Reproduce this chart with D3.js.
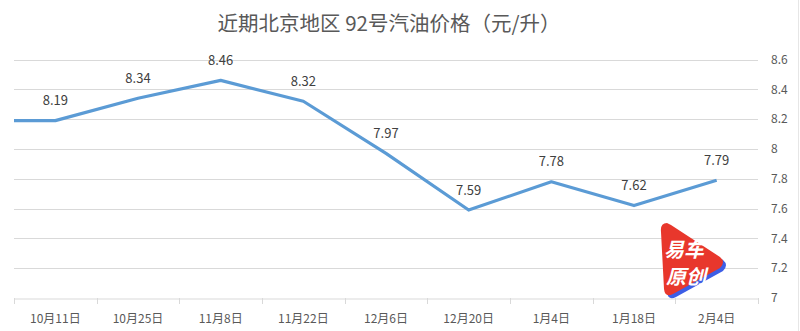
<!DOCTYPE html>
<html>
<head>
<meta charset="utf-8">
<script src="https://cdn.jsdelivr.net/npm/d3@7"></script>
<style>
  html, body { margin: 0; padding: 0; background: #fff; }
  svg { display: block; font-family: "Noto Sans CJK SC", "Noto Sans", sans-serif; }
</style>
</head>
<body>
<svg id="chart"></svg>
<script>
(function() {

// data
var dates = ['10月11日', '10月25日', '11月8日', '11月22日', '12月6日', '12月20日', '1月4日', '1月18日', '2月4日'];
var prices = [8.19, 8.34, 8.46, 8.32, 7.97, 7.59, 7.78, 7.62, 7.79];
var yTicks = [7, 7.2, 7.4, 7.6, 7.8, 8, 8.2, 8.4, 8.6];

var width = 800, height = 331;
var left = 14, right = 758, top = 59.5, bottom = 298;

var svg = d3.select('#chart')
    .attr('width', width)
    .attr('height', height);

var x = d3.scaleBand()
    .domain(dates)
    .range([left, right])
    .padding(0);

var y = d3.scaleLinear()
    .domain([7, 8.6])
    .range([bottom, top]);

// title
svg.append('text')
    .attr('x', 389)
    .attr('y', 31)
    .attr('text-anchor', 'middle')
    .attr('font-size', 20.5)
    .attr('fill', '#595959')
    .text('近期北京地区 92号汽油价格（元/升）');

// grid
svg.append('g')
    .selectAll('line')
    .data(yTicks.slice(1))
    .enter().append('line')
    .attr('x1', left)
    .attr('x2', right)
    .attr('y1', function(d) { return Math.round(y(d)) + 0.5; })
    .attr('y2', function(d) { return Math.round(y(d)) + 0.5; })
    .attr('stroke', '#d9d9d9')
    .attr('stroke-width', 1);

// right axis labels
svg.append('g')
    .selectAll('text')
    .data(yTicks)
    .enter().append('text')
    .attr('x', 771)
    .attr('y', function(d) { return y(d); })
    .attr('dy', '0.35em')
    .attr('font-size', 12)
    .attr('fill', '#595959')
    .text(function(d) { return d; });

// x axis
var xAxis = svg.append('g')
    .attr('transform', 'translate(0,' + (Math.round(y(7)) + 0.5) + ')')
    .call(d3.axisBottom(x).tickSize(0).tickPadding(16));
xAxis.select('.domain').attr('stroke', '#d9d9d9');
xAxis.selectAll('text')
    .attr('font-size', 12)
    .attr('fill', '#595959')
    .attr('font-family', '"Noto Sans CJK SC", sans-serif');

// category separators
svg.append('g')
    .selectAll('line')
    .data(dates.concat(['end']))
    .enter().append('line')
    .attr('x1', function(d, i) { return Math.round(left + i * x.bandwidth()) + 0.5; })
    .attr('x2', function(d, i) { return Math.round(left + i * x.bandwidth()) + 0.5; })
    .attr('y1', Math.round(y(7)))
    .attr('y2', Math.round(y(7)) + 6)
    .attr('stroke', '#d9d9d9');

// right frame edge
svg.append('line')
    .attr('x1', 798.5).attr('x2', 798.5)
    .attr('y1', 0).attr('y2', height)
    .attr('stroke', '#e6e6e6');

// line (series continues in from the left edge)
var pts = [[left, y(prices[0])]].concat(prices.map(function(v, i) {
  return [x(dates[i]) + x.bandwidth() / 2, y(v)];
}));

svg.append('path')
    .datum(pts)
    .attr('fill', 'none')
    .attr('stroke', '#5b9bd5')
    .attr('stroke-width', 3.2)
    .attr('stroke-linejoin', 'round')
    .attr('d', d3.line());

// data labels
svg.append('g')
    .selectAll('text')
    .data(prices)
    .enter().append('text')
    .attr('x', function(d, i) { return x(dates[i]) + x.bandwidth() / 2; })
    .attr('y', function(d) { return y(d) - 20; })
    .attr('dy', '0.35em')
    .attr('text-anchor', 'middle')
    .attr('font-size', 13)
    .attr('fill', '#404040')
    .text(function(d) { return d.toFixed(2); });

// watermark logo
var logo = svg.append('g').attr('transform', 'translate(660,223)');
var tri = 'M7,0 Q0,0 1,9 L4,66 Q5,75 13,71 L60,45 Q66,39 60,34 L11,2 Z';
logo.append('path').attr('d', tri).attr('fill', '#3d5ee6').attr('transform', 'translate(3,3)');
logo.append('path').attr('d', tri).attr('fill', '#e8372c');
logo.append('text')
    .attr('x', 4).attr('y', 34)
    .attr('font-size', 20).attr('font-weight', 'bold').attr('font-style', 'italic')
    .attr('fill', '#fff')
    .text('易车');
logo.append('text')
    .attr('x', 6).attr('y', 61)
    .attr('font-size', 20).attr('font-weight', 'bold').attr('font-style', 'italic')
    .attr('fill', '#fff')
    .text('原创');

})();
</script>
</body>
</html>
